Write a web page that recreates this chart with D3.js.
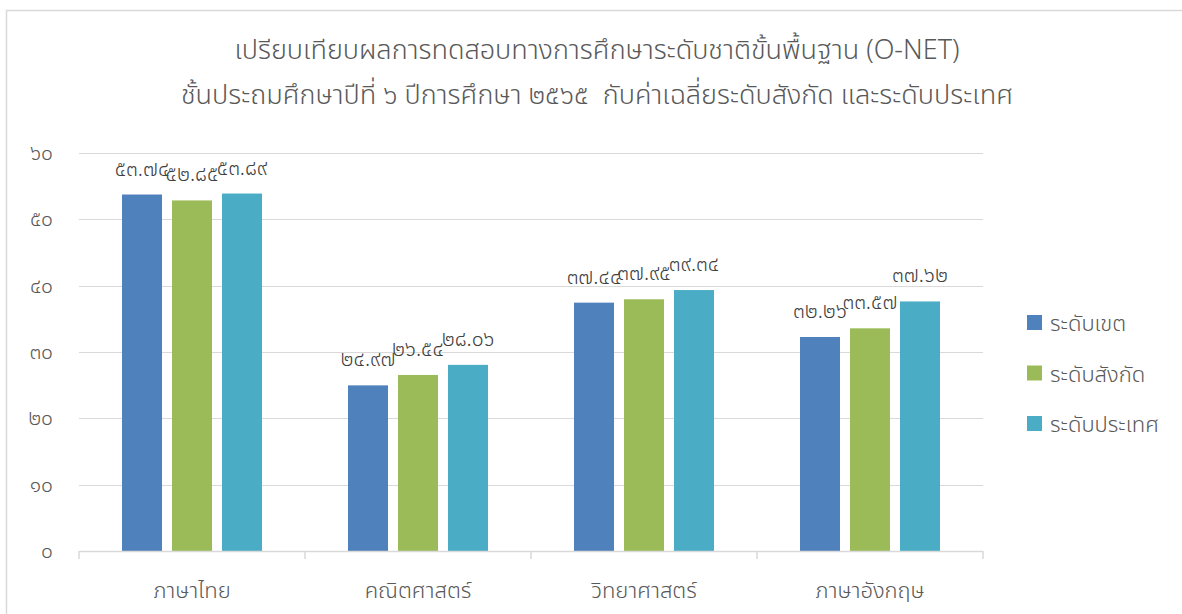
<!DOCTYPE html>
<html><head><meta charset="utf-8">
<script src="https://cdn.jsdelivr.net/npm/d3@7"></script>
<style>
body{margin:0;background:#fff;}
svg{display:block;font-family:"Noto Sans Thai","Noto Sans","Leelawadee UI",sans-serif;font-weight:300;}
text{white-space:pre;}
</style></head>
<body><svg id="c" width="1182" height="614"></svg>
<script>
const titleLines = ["เปรียบเทียบผลการทดสอบทางการศึกษาระดับชาติขั้นพื้นฐาน (O-NET)",
                    "ชั้นประถมศึกษาปีที่ ๖ ปีการศึกษา ๒๕๖๕  กับค่าเฉลี่ยระดับสังกัด และระดับประเทศ"];
const categories = ["ภาษาไทย","คณิตศาสตร์","วิทยาศาสตร์","ภาษาอังกฤษ"];
const seriesNames = ["ระดับเขต","ระดับสังกัด","ระดับประเทศ"];
const seriesColors = ["#4f81bd","#9bbb59","#4bacc6"];
const districtValues = [53.74, 24.97, 37.44, 32.26];
const affiliationValues = [52.85, 26.54, 37.95, 33.57];
const nationalValues = [53.89, 28.06, 39.34, 37.62];
const yTicks = [0,10,20,30,40,50,60];
const series = [districtValues, affiliationValues, nationalValues];

const thaiDigits = "๐๑๒๓๔๕๖๗๘๙";
const toThai = s => String(s).replace(/[0-9]/g, d => thaiDigits[+d]);

const svg = d3.select("#c");
svg.append("rect").attr("x",6.5).attr("y",10.5).attr("width",1200).attr("height",700)
  .attr("fill","none").attr("stroke","#d9d9d9").attr("stroke-width",1.5);

const pLeft=79, pRight=983, pTop=153, pBottom=551;
const x = d3.scaleBand().domain(categories).range([pLeft,pRight]);
const y = d3.scaleLinear().domain([0,60]).range([pBottom,pTop]);
const barW = 40, step = 50;

svg.append("g").selectAll("text").data(titleLines).join("text")
  .attr("x",597).attr("y",(d,i)=>59+i*45).attr("text-anchor","middle")
  .attr("font-size",27).attr("fill","#595959").text(d=>d);

svg.append("g").selectAll("line").data(yTicks.filter(t=>t>0)).join("line")
  .attr("x1",pLeft).attr("x2",pRight).attr("y1",d=>Math.round(y(d))+0.5).attr("y2",d=>Math.round(y(d))+0.5)
  .attr("stroke","#d9d9d9").attr("stroke-width",1);

svg.append("g").selectAll("text").data(yTicks).join("text")
  .attr("x",53).attr("y",d=>y(d)+7).attr("text-anchor","end")
  .attr("font-size",21).attr("fill","#595959").text(d=>toThai(d));

categories.forEach((c,ci)=>{
  series.forEach((s,si)=>{
    const cx = x(c)+x.bandwidth()/2 + (si-1)*step;
    svg.append("rect").attr("x",cx-barW/2).attr("y",y(s[ci])).attr("width",barW)
      .attr("height",y(0)-y(s[ci])).attr("fill",seriesColors[si]);
  });
});
categories.forEach((c,ci)=>{
  series.forEach((s,si)=>{
    const cx = x(c)+x.bandwidth()/2 + (si-1)*step;
    svg.append("text").attr("x",cx).attr("y",y(s[ci])-19).attr("text-anchor","middle")
      .attr("font-size",21).attr("fill","#404040").text(toThai(s[ci].toFixed(2)));
  });
});

const xa = svg.append("g");
xa.append("line").attr("x1",pLeft).attr("x2",pRight).attr("y1",pBottom+0.5).attr("y2",pBottom+0.5)
  .attr("stroke","#d9d9d9").attr("stroke-width",1.5);
xa.selectAll("line.t").data(d3.range(5)).join("line").attr("class","t")
  .attr("x1",i=>pLeft+i*x.step()).attr("x2",i=>pLeft+i*x.step())
  .attr("y1",pBottom).attr("y2",pBottom+8).attr("stroke","#d9d9d9").attr("stroke-width",1.5);
xa.selectAll("text").data(categories).join("text")
  .attr("x",d=>x(d)+x.bandwidth()/2).attr("y",598).attr("text-anchor","middle")
  .attr("font-size",22).attr("fill","#595959").text(d=>d);

const lg = svg.append("g").selectAll("g").data(seriesNames).join("g")
  .attr("transform",(d,i)=>`translate(1027,${315+i*50.5})`);
lg.append("rect").attr("width",15).attr("height",15).attr("fill",(d,i)=>seriesColors[i]);
lg.append("text").attr("x",23).attr("y",16).attr("font-size",22).attr("fill","#595959").text(d=>d);
</script></body></html>
